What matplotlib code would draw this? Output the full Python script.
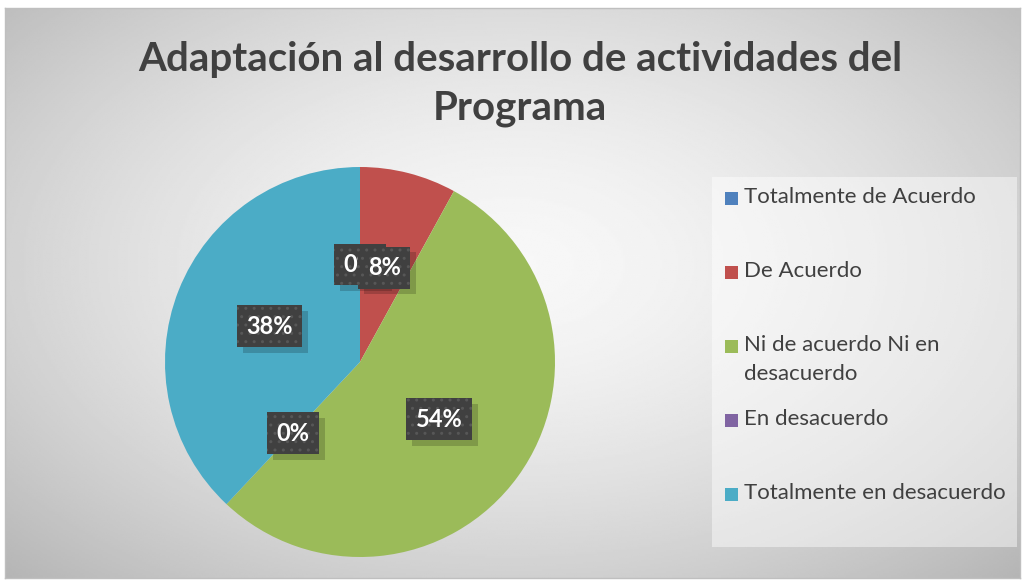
import matplotlib
matplotlib.use("Agg")
import matplotlib.pyplot as plt
from matplotlib.patches import Rectangle
import numpy as np

categorias = ["Totalmente de Acuerdo", "De Acuerdo",
              "Ni de acuerdo Ni en\ndesacuerdo", "En desacuerdo",
              "Totalmente en desacuerdo"]
porcentajes = [0, 8, 54, 0, 38]
colores = ["#4F81BD", "#C0504D", "#9BBB59", "#8064A2", "#4BACC6"]
titulo = "Adaptación al desarrollo de actividades del\nPrograma"

plt.rcParams['font.family'] = ['Lato', 'DejaVu Sans']

W, H = 1025, 583
fig = plt.figure(figsize=(W / 100, H / 100), dpi=100)
fig.patch.set_facecolor("white")

# fondo con degradado radial
bg = fig.add_axes([5 / W, 1 - 578 / H, 1015 / W, 570 / H])
yy, xx = np.mgrid[0:1:300j, 0:1:500j]
r = np.sqrt(((xx - 0.5) / 0.75) ** 2 + ((yy - 0.55) / 0.8) ** 2)
bg.imshow(0.97 - 0.28 * r ** 1.6, cmap="gray", vmin=0, vmax=1,
          extent=[0, 1, 0, 1], aspect="auto", origin="lower")
bg.set_xticks([])
bg.set_yticks([])
for s in bg.spines.values():
    s.set_color("#bfbfbf")
    s.set_linewidth(1)

# cuadro de la leyenda (coordenadas en pixeles)
lg = fig.add_axes([712 / W, 1 - 547 / H, 305 / W, 370 / H])
lg.set_facecolor((1, 1, 1, 0.45))
lg.set_xlim(712, 1017)
lg.set_ylim(547, 177)
lg.set_xticks([])
lg.set_yticks([])
for s in lg.spines.values():
    s.set_visible(False)

ax = fig.add_axes([165 / W, 1 - 557 / H, 390 / W, 390 / H])
wedges, texts = ax.pie(porcentajes, colors=colores, startangle=90,
                       counterclock=False, radius=1, labels=None,
                       wedgeprops=dict(linewidth=0))
ax.set_xlim(-1, 1)
ax.set_ylim(-1, 1)

for w, p in zip(wedges, porcentajes):
    mid = np.deg2rad((w.theta1 + w.theta2) / 2)
    x, y = 0.5 * np.cos(mid), 0.5 * np.sin(mid)
    ax.text(x + 0.03, y - 0.03, f"{p}%", ha="center", va="center",
            fontsize=17, fontweight="bold", color=(0, 0, 0, 0),
            bbox=dict(boxstyle="square,pad=0.4", fc=(0, 0, 0, 0.18), ec="none"))
    ax.text(x, y, f"{p}%", ha="center", va="center", fontsize=17,
            fontweight="bold", color="white",
            bbox=dict(boxstyle="square,pad=0.4", fc="#404040",
                      ec="#575757", lw=0, hatch=".."))

fig.text(520 / W, 1 - 84 / H, titulo, ha="center", va="center",
         fontsize=29, fontweight="bold", color="#404040", linespacing=1.4)

# leyenda
for i, (cat, col) in enumerate(zip(categorias, colores)):
    yc = 198 + i * 74
    lg.add_patch(Rectangle((725, yc - 6.5), 13, 13, color=col, lw=0))
    lg.text(744, yc - 11, cat, ha="left", va="top", fontsize=16,
            color="#404040", linespacing=1.55)

fig.savefig("out.png", dpi=100)
